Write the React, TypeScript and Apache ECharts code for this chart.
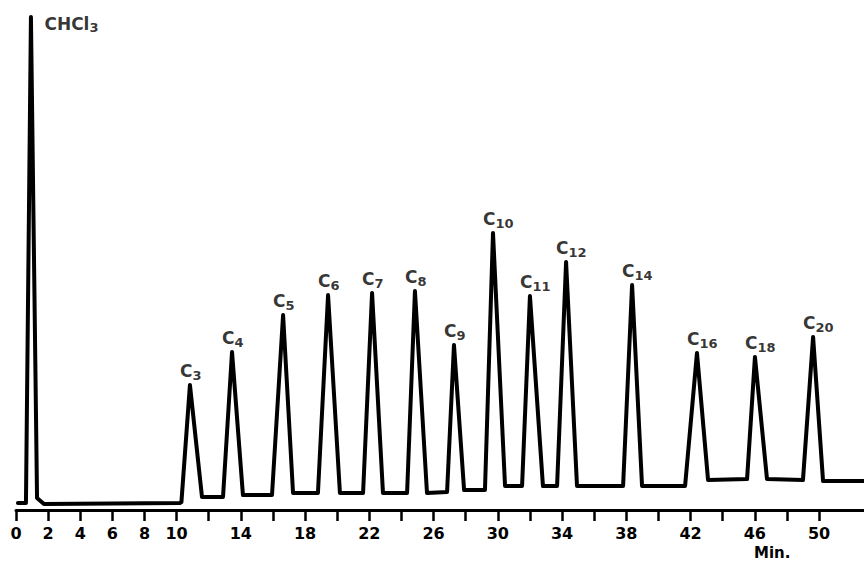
import React, { useEffect, useRef } from "react";
import * as echarts from "echarts";

// Retention time (min) and detector response (arbitrary units) of the trace
const traceTimes = [
  0.12, 0.62, 0.93, 1.31, 1.74, 10.2, 10.3, 10.83, 11.58, 12.89, 13.45, 14.13,
  15.94, 16.63, 17.25, 18.8, 19.43, 20.17, 21.61, 22.17, 22.85, 24.35, 24.84,
  25.59, 26.84, 27.27, 27.9, 29.2, 29.7, 30.45, 31.51, 32.0, 32.81, 33.69,
  34.25, 34.93, 37.8, 38.36, 38.98, 41.66, 42.4, 43.09, 45.52, 46.01, 46.76,
  49.0, 49.63, 50.25, 52.8,
];
const traceSignal = [
  7, 7, 493, 12, 6, 7, 8, 125, 13, 13, 158, 15, 15, 195, 17, 17, 215, 17, 17,
  217, 17, 17, 219, 17, 18, 165, 20, 20, 277, 24, 24, 214, 24, 24, 248, 24, 24,
  225, 24, 24, 157, 30, 31, 153, 31, 30, 173, 29, 29,
];

// Peak identification
const solventName = "CHCl";
const solventSub = "3";
const solventTime = 0.93;
const solventSignal = 493;
const peakCarbons = ["3", "4", "5", "6", "7", "8", "9", "10", "11", "12", "14", "16", "18", "20"];
const peakTimes = [10.83, 13.45, 16.63, 19.43, 22.17, 24.84, 27.27, 29.7, 32.0, 34.25, 38.36, 42.4, 46.01, 49.63];
const peakSignals = [125, 158, 195, 215, 217, 219, 165, 277, 214, 248, 225, 157, 153, 173];

// Axis ticks and labels
const tickValues = [0, 2, 4, 6, 8, 10, 12, 14, 16, 18, 20, 22, 24, 26, 28, 30, 32, 34, 36, 38, 40, 42, 44, 46, 48, 50];
const labelValues = [0, 2, 4, 6, 8, 10, 14, 18, 22, 26, 30, 34, 38, 42, 46, 50];
const axisUnit = "Min.";

const FONT = "DejaVu Sans";

export default function App() {
  const ref = useRef<HTMLDivElement>(null);
  useEffect(() => {
    if (!ref.current) return;
    const chart = echarts.init(ref.current, undefined, { renderer: "svg" });
    const rich = {
      c: { fontFamily: FONT, fontWeight: "bold", fontSize: 17, color: "#000", verticalAlign: "bottom", lineHeight: 22, padding: [0, 0, 2, 0] },
      s: { fontFamily: FONT, fontWeight: "bold", fontSize: 13, color: "#000", verticalAlign: "bottom", lineHeight: 22 },
    };
    const labelData: any[] = peakCarbons.map((c, i) => ({
      value: [peakTimes[i], peakSignals[i]],
      label: { formatter: `{c|C}{s|${c}}` },
    }));
    labelData.push({
      value: [solventTime, solventSignal],
      label: {
        formatter: `{c|${solventName}}{s|${solventSub}}`,
        position: "right",
        align: "left",
        verticalAlign: "middle",
        offset: [10, 6],
      },
    });
    chart.setOption({
      animation: false,
      backgroundColor: "#fff",
      grid: { left: 16, right: 0, top: 0, bottom: 52 },
      xAxis: {
        type: "value",
        min: 0,
        max: 52.8,
        axisLine: { show: true, lineStyle: { color: "#000", width: 3 } },
        axisTick: {
          show: true,
          customValues: tickValues,
          length: 11,
          lineStyle: { color: "#000", width: 2.5 },
        },
        axisLabel: {
          customValues: labelValues,
          color: "#000",
          fontFamily: FONT,
          fontWeight: "bold",
          fontSize: 16,
          margin: 15,
        },
        splitLine: { show: false },
      },
      yAxis: {
        type: "value",
        min: 0,
        max: 510,
        show: false,
      },
      graphic: [
        {
          type: "text",
          left: 754,
          top: 545,
          style: { text: axisUnit, font: `bold 15px "${FONT}"`, fill: "#000" },
        },
      ],
      series: [
        {
          type: "line",
          data: traceTimes.map((t, i) => [t, traceSignal[i]]),
          showSymbol: false,
          lineStyle: { color: "#000", width: 4, join: "round", cap: "round" },
          silent: true,
        },
        {
          type: "scatter",
          data: labelData,
          symbolSize: 1,
          itemStyle: { color: "rgba(0,0,0,0)" },
          label: {
            show: true,
            position: "top",
            align: "left",
            distance: 3,
            offset: [-10, 0],
            rich,
          },
          silent: true,
        },
      ],
    });
    return () => chart.dispose();
  }, []);
  return (
    <div
      ref={ref}
      style={{ position: "fixed", left: 0, top: 0, width: 864, height: 562, background: "#fff" }}
    />
  );
}
